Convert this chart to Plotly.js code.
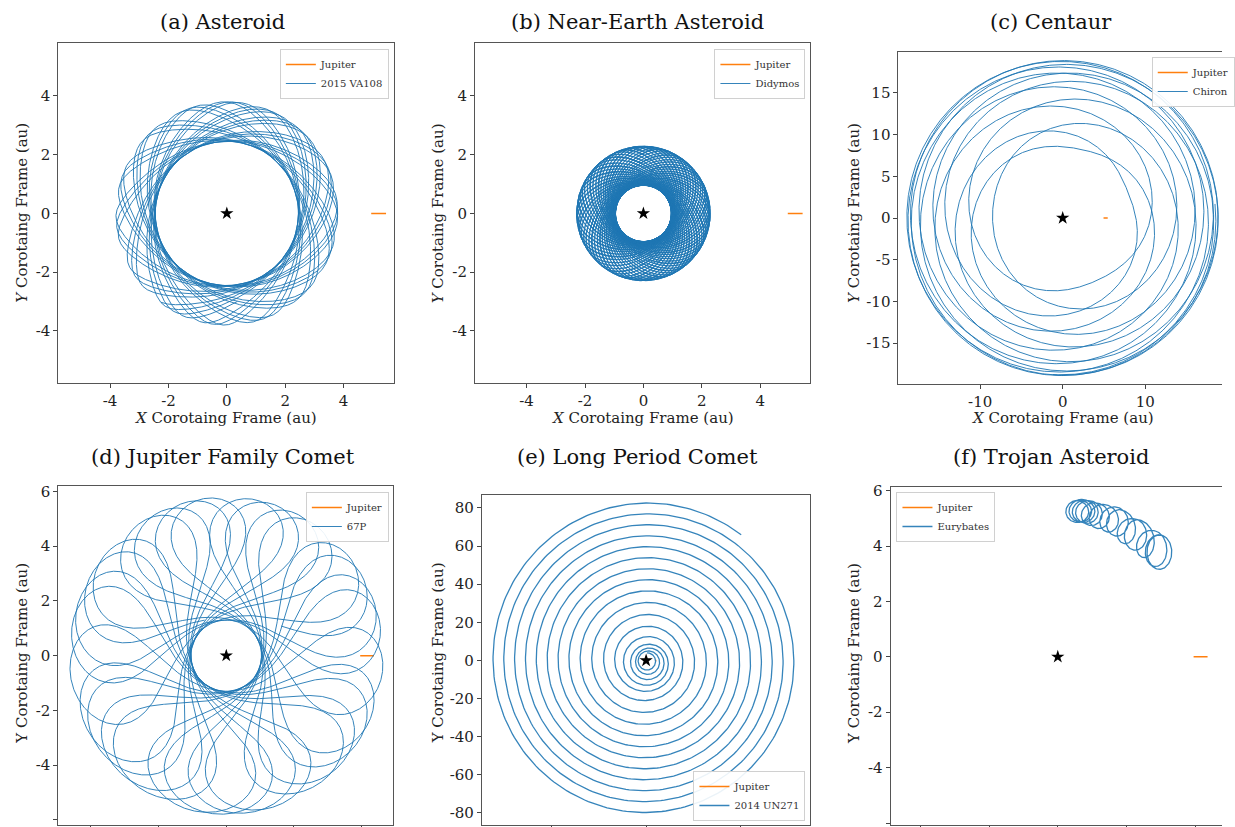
<!DOCTYPE html>
<html><head><meta charset="utf-8">
<script src="https://cdn.plot.ly/plotly-3.0.1.min.js"></script>
<style>html,body{margin:0;padding:0;background:#fff}#chart{width:1235px;height:827px}</style>
</head><body><div id="chart"></div>
<script>
// ---------------- data ----------------
const panelTitles = ["(a) Asteroid", "(b) Near-Earth Asteroid", "(c) Centaur",
                     "(d) Jupiter Family Comet", "(e) Long Period Comet", "(f) Trojan Asteroid"];
const objectNames = ["2015 VA108", "Didymos", "Chiron", "67P", "2014 UN271", "Eurybates"];

// panels a-d: Keplerian heliocentric orbits seen in Jupiter's corotating frame
const perihelionAU   = [2.45, 0.96, 8.5, 1.3];
const aphelionAU     = [3.80, 2.29, 18.9, 5.8];
const spanYears      = [250, 300, 205, 200];
const startAnomalyDeg = [200, 30, 150, 10];
const perihelionLonDeg = [40, 0, 200, 70];

// Jupiter
const jupiterA = 5.2, jupiterE = 0.0489, jupiterPeriodYr = 11.862;

// panel e: spiral of 2014 UN271 (ring radius at each top crossing, au)
const spiralEndAngleDeg = 52.6;
const spiralEndRadiusAU = 83.0;
const spiralRingRadiusAU = [82.6, 76.9, 71.2, 65.4, 59.7, 53.9, 48.1, 42.4, 36.5, 30.4, 24.1, 17.9];
const innerLoopRadiusAU = [13.5, 10.0, 7.5, 5.5, 4.0];
const innerLoopCenterX  = [0.5, 1.0, 1.5, 1.0, 0.5];
const innerLoopCenterY  = [-1.0, -1.5, -1.0, -0.5, 0.0];

// panel f: Eurybates tadpole loops (centre and half-sizes, au)
const trojanLoopCX = [0.66, 0.76, 0.88, 1.00, 1.12, 1.36, 1.66, 2.08, 2.26, 2.74, 2.92, 3.46, 3.70];
const trojanLoopCY = [5.24, 5.26, 5.28, 5.24, 5.22, 5.12, 5.04, 4.92, 4.80, 4.44, 4.38, 3.96, 3.78];
const trojanLoopRX = [0.44, 0.44, 0.44, 0.44, 0.44, 0.44, 0.44, 0.44, 0.44, 0.45, 0.45, 0.45, 0.45];
const trojanLoopRY = [0.40, 0.40, 0.40, 0.41, 0.42, 0.44, 0.46, 0.49, 0.51, 0.55, 0.57, 0.60, 0.62];

// ticks
const ticksAB = [-4, -2, 0, 2, 4];
const ticksCx = [-10, 0, 10];
const ticksCy = [-15, -10, -5, 0, 5, 10, 15];
const ticksDF_y = [-6, -4, -2, 0, 2, 4, 6];
const ticksDF_x = [-5, -2.5, 0, 2.5, 5];
const ticksEy = [-80, -60, -40, -20, 0, 20, 40, 60, 80];
const ticksEx = [-50, 0, 50];

// ---------------- helpers ----------------
const BLUE = '#1f77b4', ORANGE = '#ff7f0e';
const W = 1235, H = 827;
const TWO_PI = 2 * Math.PI;

function solveKepler(M, e) {
  let E = M;
  for (let i = 0; i < 30; i++) {
    const d = (E - e * Math.sin(E) - M) / (1 - e * Math.cos(E));
    E -= d;
    if (Math.abs(d) < 1e-10) break;
  }
  return E;
}
function orbitState(a, e, M) {
  const E = solveKepler(M, e);
  const r = a * (1 - e * Math.cos(E));
  const nu = 2 * Math.atan2(Math.sqrt(1 + e) * Math.sin(E / 2), Math.sqrt(1 - e) * Math.cos(E / 2));
  return [r, nu];
}
function jupiterAt(t) {
  const M = TWO_PI * t / jupiterPeriodYr;
  return orbitState(jupiterA, jupiterE, M);
}
function corotatingTrack(i) {
  const q = perihelionAU[i], Q = aphelionAU[i];
  const a = (q + Q) / 2, e = (Q - q) / (Q + q);
  const P = Math.pow(a, 1.5);
  const M0 = startAnomalyDeg[i] * Math.PI / 180, w = perihelionLonDeg[i] * Math.PI / 180;
  const dt = Math.min(P / (i === 1 ? 200 : 500), 0.02);
  const xs = [], ys = [];
  for (let t = 0; t <= spanYears[i]; t += dt) {
    const [r, nu] = orbitState(a, e, M0 + TWO_PI * t / P);
    const [, nuJ] = jupiterAt(t);
    const phi = nu + w - nuJ;
    xs.push(r * Math.cos(phi)); ys.push(r * Math.sin(phi));
  }
  return [xs, ys];
}
function jupiterTrack() {
  const xs = [], ys = [];
  for (let t = 0; t <= jupiterPeriodYr; t += 0.05) {
    const [r] = jupiterAt(t);
    xs.push(r); ys.push(0);
  }
  return [xs, ys];
}
function spiralTrack() {
  const ctrl = [[spiralEndAngleDeg, spiralEndRadiusAU, 0, 0]];
  spiralRingRadiusAU.forEach((r, k) => ctrl.push([90 + 360 * k, r, 0, 0]));
  const base = 90 + 360 * spiralRingRadiusAU.length;
  innerLoopRadiusAU.forEach((r, k) => ctrl.push([base + 360 * k, r, innerLoopCenterX[k], innerLoopCenterY[k]]));
  const xs = [], ys = [];
  for (let k = 0; k < ctrl.length - 1; k++) {
    const [a0, r0, x0, y0] = ctrl[k], [a1, r1, x1, y1] = ctrl[k + 1];
    const n = Math.max(2, Math.round((a1 - a0) / 1.5));
    for (let j = 0; j < n; j++) {
      const s = j / n, ang = (a0 + (a1 - a0) * s) * Math.PI / 180;
      const r = r0 + (r1 - r0) * s, cx = x0 + (x1 - x0) * s, cy = y0 + (y1 - y0) * s;
      xs.push(cx + r * Math.cos(ang)); ys.push(cy + r * Math.sin(ang));
    }
  }
  const last = ctrl[ctrl.length - 1];
  xs.push(last[2] + last[1] * Math.cos(last[0] * Math.PI / 180));
  ys.push(last[3] + last[1] * Math.sin(last[0] * Math.PI / 180));
  return [xs, ys];
}
function trojanTrack() {
  const xs = [], ys = [];
  const n = trojanLoopCX.length;
  for (let k = 0; k < n; k++) {
    const k1 = Math.min(k + 1, n - 1);
    for (let j = 0; j <= 90; j++) {
      const s = j / 90, ph = TWO_PI * s;
      const cx = trojanLoopCX[k] + (trojanLoopCX[k1] - trojanLoopCX[k]) * s;
      const cy = trojanLoopCY[k] + (trojanLoopCY[k1] - trojanLoopCY[k]) * s;
      const rx = trojanLoopRX[k] + (trojanLoopRX[k1] - trojanLoopRX[k]) * s;
      const ry = trojanLoopRY[k] + (trojanLoopRY[k1] - trojanLoopRY[k]) * s;
      xs.push(cx + rx * Math.sin(ph)); ys.push(cy + ry * Math.cos(ph));
    }
  }
  return [xs, ys];
}
const fmt = v => (v < 0 ? '-' + Math.abs(v) : String(v));

// ---------------- panel geometry (pixels) ----------------
const panels = [
  {x0: 59,  x1: 398,  y0: 43,  y1: 383, xr: [-5.77, 5.72], yr: [-5.77, 5.8], xt: ticksAB, yt: ticksAB, mirrorY: true, xlab: true},
  {x0: 480, x1: 819,  y0: 43,  y1: 383, xr: [-5.77, 5.72], yr: [-5.77, 5.8], xt: ticksAB, yt: ticksAB, mirrorY: true, xlab: true},
  {x0: 908, x1: 1235, y0: 52,  y1: 384, xr: [-19.9, 19.3], yr: [-19.9, 19.9], xt: ticksCx, yt: ticksCy, mirrorY: false, xlab: true},
  {x0: 59,  x1: 397,  y0: 486, y1: 825, xr: [-6.2, 6.15], yr: [-6.19, 6.2], xt: ticksDF_x, yt: ticksDF_y, mirrorY: true, xlab: false},
  {x0: 487, x1: 819,  y0: 495, y1: 825, xr: [-87.1, 87.1], yr: [-86.3, 86.8], xt: ticksEx, yt: ticksEy, mirrorY: true, xlab: false},
  {x0: 900, x1: 1235, y0: 487, y1: 825, xr: [-6.09, 5.98], yr: [-6.07, 6.13], xt: ticksDF_x, yt: ticksDF_y, mirrorY: false, xlab: false}
];
const FONT = 'DejaVu Serif';
const layout = {
  width: W, height: H, margin: {l: 0, r: 0, t: 0, b: 0},
  paper_bgcolor: '#fff', plot_bgcolor: '#fff', showlegend: true,
  annotations: [], font: {family: FONT, color: '#222'}
};
const traces = [];
const legendPos = [
  {x: 393, y: 49, xa: 'right', ya: 'top'},
  {x: 814, y: 49, xa: 'right', ya: 'top'},
  {x: 1164, y: 57, xa: 'left', ya: 'top'},
  {x: 393, y: 492, xa: 'right', ya: 'top'},
  {x: 814, y: 821, xa: 'right', ya: 'bottom'},
  {x: 906, y: 492, xa: 'left', ya: 'top'}
];
const titleX = [225, 644, 1062, 225, 644, 1062];
const titleY = [22, 22, 22, 457, 457, 457];

panels.forEach((p, i) => {
  const n = i + 1, sfx = n === 1 ? '' : String(n);
  const xa = 'xaxis' + sfx, ya = 'yaxis' + sfx;
  const common = {
    ticks: 'outside', ticklen: 4, tickwidth: 1, tickcolor: '#444',
    showline: true, linecolor: '#555', linewidth: 1,
    showgrid: false, zeroline: false, fixedrange: true,
    tickfont: {family: FONT, size: 15, color: '#222'}
  };
  layout[xa] = Object.assign({}, common, {
    domain: [p.x0 / W, p.x1 / W], range: p.xr, anchor: 'y' + sfx, mirror: true,
    tickvals: p.xt, ticktext: p.xt.map(fmt), showticklabels: p.xlab
  });
  layout[ya] = Object.assign({}, common, {
    domain: [1 - p.y1 / H, 1 - p.y0 / H], range: p.yr, anchor: 'x' + sfx, mirror: p.mirrorY,
    tickvals: p.yt, ticktext: p.yt.map(fmt)
  });
  const lg = 'legend' + (n === 1 ? '' : n);
  const L = legendPos[i];
  layout[lg] = {
    x: L.x / W, y: 1 - L.y / H, xanchor: L.xa, yanchor: L.ya,
    bgcolor: 'rgba(255,255,255,0.9)', bordercolor: '#d0d0d0', borderwidth: 1,
    font: {family: FONT, size: 10, color: '#333'}, itemwidth: 30, tracegroupgap: 0
  };

  const lw = i >= 4 ? 1.3 : 1;
  const [jx, jy] = jupiterTrack();
  traces.push({type: 'scatter', mode: 'lines', x: jx, y: jy, xaxis: 'x' + sfx, yaxis: 'y' + sfx,
    name: 'Jupiter', legend: lg, line: {color: ORANGE, width: 1.5}, hoverinfo: 'skip'});
  let ox, oy;
  if (i < 4) [ox, oy] = corotatingTrack(i);
  else if (i === 4) [ox, oy] = spiralTrack();
  else [ox, oy] = trojanTrack();
  traces.push({type: 'scatter', mode: 'lines', x: ox, y: oy, xaxis: 'x' + sfx, yaxis: 'y' + sfx,
    name: objectNames[i], legend: lg, line: {color: BLUE, width: lw}, opacity: 0.9, hoverinfo: 'skip'});
  traces.push({type: 'scatter', mode: 'markers', x: [0], y: [0], xaxis: 'x' + sfx, yaxis: 'y' + sfx,
    showlegend: false, marker: {symbol: 'star', size: 10, color: '#000'}, hoverinfo: 'skip'});

  layout.annotations.push({text: panelTitles[i], xref: 'paper', yref: 'paper',
    x: titleX[i] / W, y: 1 - titleY[i] / H, xanchor: 'center', yanchor: 'middle', showarrow: false,
    font: {family: FONT, size: 21, color: '#111'}});
  if (i < 3) {
    layout.annotations.push({text: '<i>X</i> Corotaing Frame (au)', xref: 'paper', yref: 'paper',
      x: ((p.x0 + (i === 2 ? 1240 : p.x1)) / 2) / W, y: 1 - 418 / H, xanchor: 'center', yanchor: 'middle',
      showarrow: false, font: {family: FONT, size: 15, color: '#222'}});
  }
  const yCenter = i < 3 ? 213 : 653;
  const yText = i < 3 ? '<i>Y</i> Corotaing Frame (au)' : 'Y Corotaing Frame (au)';
  layout.annotations.push({text: yText, xref: 'paper', yref: 'paper', textangle: -90,
    x: [22, 443, 863][i % 3] / W, y: 1 - yCenter / H, xanchor: 'center', yanchor: 'middle',
    showarrow: false, font: {family: FONT, size: 15, color: '#222'}});
});

Plotly.newPlot('chart', traces, layout, {staticPlot: true, displayModeBar: false});
</script></body></html>
